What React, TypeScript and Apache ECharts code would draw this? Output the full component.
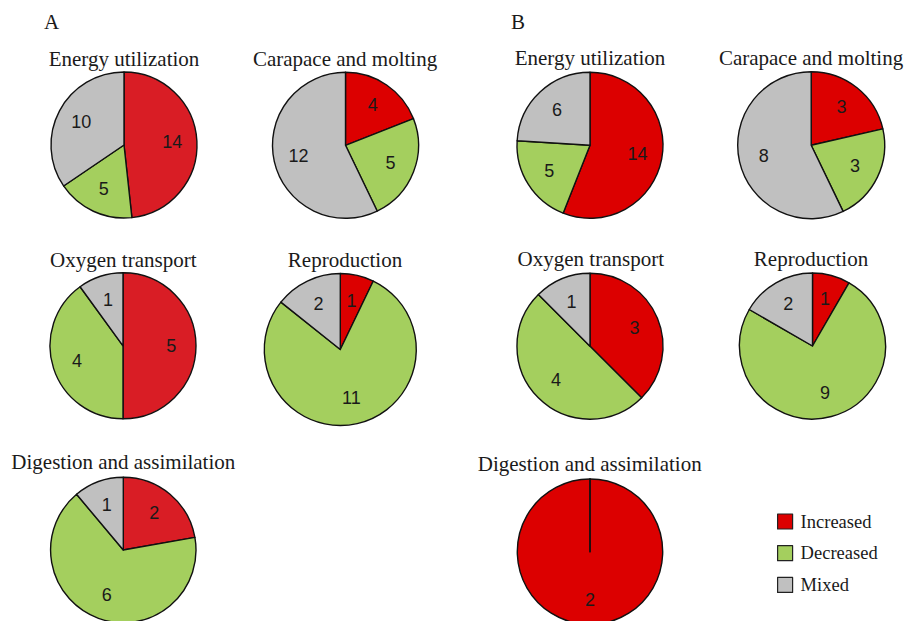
import React, { useEffect, useRef } from "react";
import * as echarts from "echarts";

// Response categories, in clockwise order from 12 o'clock
const statuses = ["Increased", "Decreased", "Mixed"];

// Functional groups shown in each panel
const panelTitles = [
  "Energy utilization",
  "Carapace and molting",
  "Oxygen transport",
  "Reproduction",
  "Digestion and assimilation",
];

// Panel letters
const panelLetters = ["A", "B"];

// Gene counts per group: [Increased, Decreased, Mixed]
const countsA = [
  [14, 5, 10],
  [4, 5, 12],
  [5, 4, 1],
  [1, 11, 2],
  [2, 6, 1],
];
const countsB = [
  [14, 5, 6],
  [3, 3, 8],
  [3, 4, 1],
  [1, 9, 2],
  [2, 0, 0],
];

const SERIF = '"Liberation Serif", "Times New Roman", serif';
const SANS = '"Liberation Sans", Arial, sans-serif';

const RED = "#dc0000";
const RED_SOFT = "#d91d25";
const GREEN = "#a4cf5e";
const GREY = "#c0c0c0";
const INK = "#1a1a1a";

// Layout of each panel: pie centre, radius, title position, red shade
const layoutA = [
  { cx: 124, cy: 145, r: 73, tx: 124, ty: 58.5, red: RED_SOFT },
  { cx: 345.5, cy: 145.3, r: 73, tx: 345, ty: 58.5, red: RED },
  { cx: 123, cy: 345.8, r: 73, tx: 123.3, ty: 260, red: RED_SOFT },
  { cx: 340.3, cy: 349.5, r: 76, tx: 345, ty: 260, red: RED },
  { cx: 123.3, cy: 550, r: 72.7, tx: 123.3, ty: 462, red: RED_SOFT },
];
const layoutB = [
  { cx: 590, cy: 145.3, r: 73, tx: 590, ty: 58, red: RED },
  { cx: 811.2, cy: 145.2, r: 73.5, tx: 811, ty: 58, red: RED },
  { cx: 590, cy: 346.2, r: 73, tx: 590.8, ty: 258.5, red: RED },
  { cx: 812.5, cy: 346, r: 73, tx: 811, ty: 258.5, red: RED },
  { cx: 590, cy: 551.7, r: 72.7, tx: 589.7, ty: 463.5, red: RED },
];
const letterPos = [
  { x: 44, y: 22 },
  { x: 511, y: 22 },
];

function buildPanels(counts: number[][], layout: typeof layoutA) {
  const series: any[] = [];
  const texts: any[] = [];
  counts.forEach((vals, i) => {
    const L = layout[i];
    const colors = [L.red, GREEN, GREY];
    // filled pie with black outlines
    series.push({
      type: "pie",
      center: [L.cx, L.cy],
      radius: [0, L.r],
      startAngle: 90,
      clockwise: true,
      silent: true,
      avoidLabelOverlap: false,
      label: { show: false },
      labelLine: { show: false },
      emphasis: { disabled: true },
      itemStyle: { borderColor: "#111", borderWidth: 1.4 },
      data: vals.map((v, k) => ({
        name: statuses[k],
        value: v,
        itemStyle: { color: colors[k] },
      })),
    });
    // transparent ring carrying the count labels a bit further out
    series.push({
      type: "pie",
      center: [L.cx, L.cy],
      radius: [L.r * 0.24, L.r],
      startAngle: 90,
      clockwise: true,
      silent: true,
      avoidLabelOverlap: false,
      labelLine: { show: false },
      emphasis: { disabled: true },
      itemStyle: { color: "rgba(0,0,0,0)", borderWidth: 0 },
      label: {
        show: true,
        position: "inside",
        formatter: "{c}",
        fontFamily: SANS,
        fontSize: 18,
        color: INK,
      },
      data: vals.map((v, k) => ({
        name: statuses[k],
        value: v,
        label: { show: v > 0 },
      })),
    });
    texts.push({
      type: "text",
      x: L.tx,
      y: L.ty,
      style: {
        text: panelTitles[i],
        fontFamily: SERIF,
        fontSize: 21,
        fill: INK,
        textAlign: "center",
        textVerticalAlign: "middle",
      },
    });
  });
  return { series, texts };
}

export default function App() {
  const ref = useRef<HTMLDivElement>(null);

  useEffect(() => {
    if (!ref.current) return;
    const chart = echarts.init(ref.current, null, { renderer: "svg" });
    const a = buildPanels(countsA, layoutA);
    const b = buildPanels(countsB, layoutB);
    const letters = panelLetters.map((t, i) => ({
      type: "text",
      x: letterPos[i].x,
      y: letterPos[i].y,
      style: {
        text: t,
        fontFamily: SERIF,
        fontSize: 21,
        fill: INK,
        textAlign: "left",
        textVerticalAlign: "middle",
      },
    }));
    const legendColors = [RED, GREEN, GREY];
    chart.setOption({
      animation: false,
      backgroundColor: "#ffffff",
      legend: {
        orient: "vertical",
        left: 777,
        top: 512,
        padding: 0,
        icon: "rect",
        itemWidth: 15,
        itemHeight: 15,
        itemGap: 12.7,
        selectedMode: false,
        textStyle: {
          fontFamily: SERIF,
          fontSize: 18.5,
          lineHeight: 15,
          color: INK,
          padding: [0, 0, 0, 3],
        },
        data: statuses.map((s, k) => ({
          name: s,
          itemStyle: {
            color: legendColors[k],
            borderColor: "#222",
            borderWidth: 1.2,
          },
        })),
      },
      graphic: [...letters, ...a.texts, ...b.texts],
      series: [...a.series, ...b.series],
    });
    return () => chart.dispose();
  }, []);

  return (
    <div
      ref={ref}
      style={{ position: "absolute", left: 0, top: 0, width: 906, height: 621 }}
    />
  );
}
